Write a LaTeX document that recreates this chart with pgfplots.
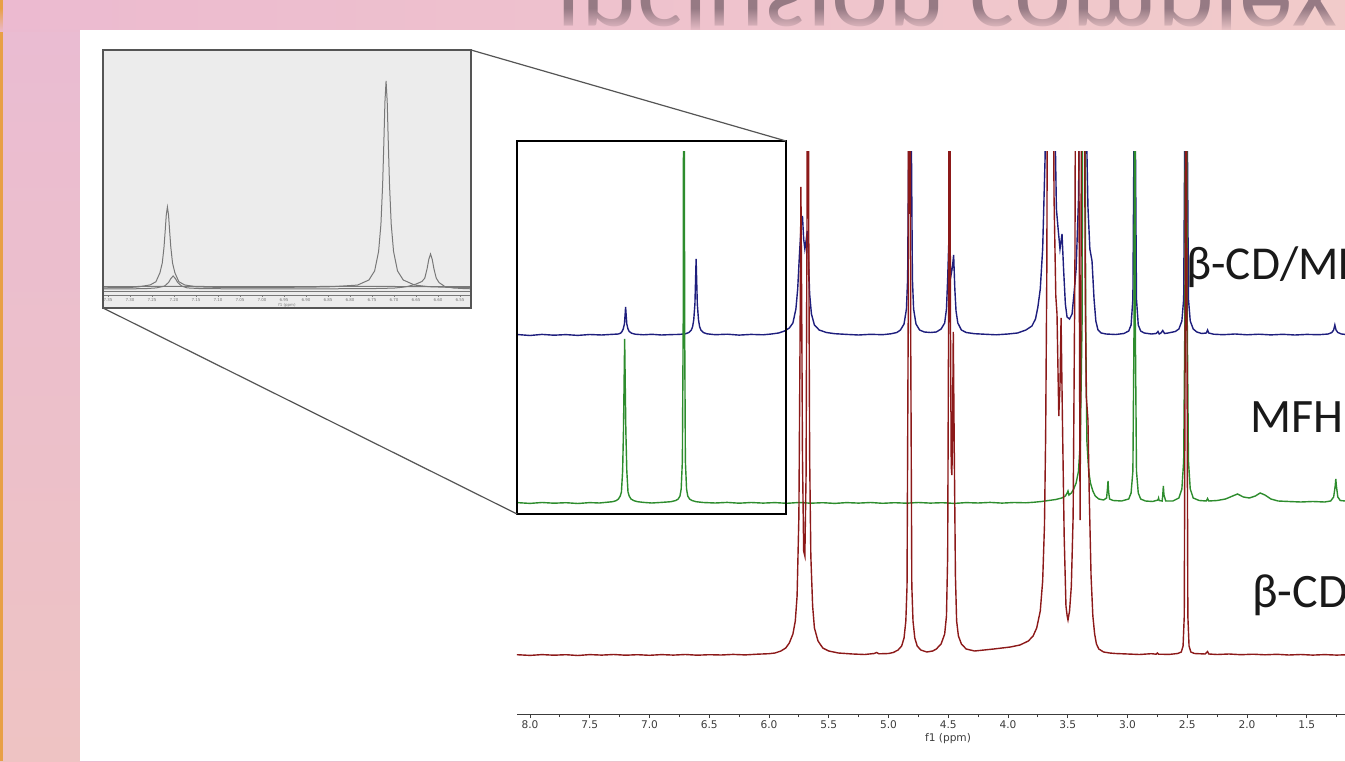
\documentclass[border=0pt]{standalone}
\usepackage{pgfplots}
\pgfplotsset{compat=1.18}
\usepackage{pgfplotstable}
\usetikzlibrary{fadings}
\usepackage{fontspec}
\setmainfont{Carlito}
\newfontfamily\dejavu{DejaVu Sans}

\definecolor{bgl}{RGB}{236,186,208}
\definecolor{bgm}{RGB}{245,184,200}
\definecolor{bgr}{RGB}{241,203,202}
\definecolor{stript}{RGB}{234,188,210}
\definecolor{stripm}{RGB}{246,180,205}
\definecolor{stripb}{RGB}{238,195,195}
\definecolor{orng}{RGB}{232,160,70}
\definecolor{bannertxt}{RGB}{150,122,132}
\definecolor{insetbg}{RGB}{236,236,236}
\definecolor{insetbd}{RGB}{85,85,85}
\definecolor{insetln}{RGB}{120,120,120}
\definecolor{specblue}{RGB}{30,30,125}
\definecolor{specgreen}{RGB}{45,140,45}
\definecolor{specred}{RGB}{140,25,25}
\definecolor{tickgray}{RGB}{60,60,60}

% ---------- main spectra (x: ppm, y: trace height in px) ----------
\pgfplotstableread{
x y
8.11 384.5
8.00 383.5
7.90 384.6
7.80 383.8
7.70 384.4
7.60 383.6
7.50 384.5
7.40 384.0
7.32 384.6
7.26 385.0
7.24 386
7.23 387.5
7.22 390
7.21 395
7.205 403
7.20 412
7.195 403
7.19 395
7.18 390
7.17 387.5
7.15 385.8
7.12 384.8
7.05 384.2
6.98 384.7
6.90 384.0
6.82 384.4
6.75 384.6
6.70 385.2
6.67 386.5
6.65 389
6.64 392
6.63 399
6.62 415
6.615 437
6.61 460
6.605 437
6.60 415
6.59 399
6.58 392
6.57 389
6.55 386.5
6.52 385.2
6.45 384.3
6.35 384.8
6.25 383.9
6.15 384.6
6.05 384.2
5.98 385.0
5.92 386
5.87 388
5.83 391
5.80 396
5.775 410
5.76 430
5.745 465
5.73 495
5.72 503
5.71 480
5.70 470
5.69 478
5.68 488
5.67 460
5.66 425
5.645 405
5.62 394
5.58 389
5.52 386.5
5.45 385.3
5.35 384.6
5.25 384.0
5.15 384.7
5.05 384.3
4.98 385.2
4.93 386.5
4.90 389
4.87 395
4.85 410
4.84 440
4.83 600
4.82 900
4.81 600
4.80 440
4.79 410
4.77 395
4.74 389
4.70 387
4.65 386.5
4.60 387
4.56 390
4.53 396
4.515 410
4.505 440
4.495 479
4.485 455
4.475 445
4.465 452
4.455 464
4.445 430
4.435 408
4.42 396
4.39 389
4.35 386.5
4.28 385.3
4.20 384.8
4.10 384.2
4.00 385.0
3.92 386
3.85 389
3.80 393
3.77 400
3.75 412
3.73 430
3.71 470
3.69 560
3.675 680
3.657 900
3.645 700
3.635 720
3.623 900
3.61 620
3.595 510
3.582 492
3.565 470
3.548 485
3.535 450
3.52 415
3.506 402
3.485 400
3.464 405
3.448 425
3.43 450
3.41 520
3.395 700
3.381 900
3.37 750
3.356 900
3.345 600
3.331 512
3.315 470
3.297 458
3.28 420
3.265 398
3.247 389
3.22 386
3.18 385
3.10 384.5
3.03 385.5
2.99 388
2.97 394
2.955 420
2.945 600
2.94 900
2.935 600
2.925 420
2.91 394
2.89 388
2.86 386
2.80 385
2.76 385.5
2.745 387.5
2.735 385
2.72 386
2.705 388.5
2.69 385.5
2.66 386
2.60 387.5
2.57 390
2.545 398
2.53 420
2.52 600
2.51 950
2.50 600
2.49 420
2.475 398
2.45 390
2.42 387
2.38 385.5
2.34 386
2.33 389
2.32 386
2.28 384.8
2.20 384.3
2.10 385.0
2.00 384.2
1.90 384.8
1.80 384.1
1.70 384.7
1.60 384.0
1.50 384.6
1.40 384.3
1.32 385.0
1.29 386.5
1.275 389
1.265 394
1.255 389
1.24 386.5
1.21 385
1.18 384.6
}\bluedata

\pgfplotstableread{
x y
8.11 218.4
8.00 217.6
7.90 218.5
7.80 217.8
7.70 218.3
7.60 217.5
7.50 218.4
7.42 218.0
7.36 218.7
7.31 219.3
7.28 220.3
7.26 222
7.245 225
7.235 229
7.225 250
7.218 290
7.212 345
7.208 382
7.204 345
7.198 290
7.19 250
7.18 229
7.17 225
7.155 222
7.13 220.3
7.10 219.3
7.05 218.6
6.98 218.0
6.90 218.6
6.82 219.3
6.78 220.5
6.76 222
6.745 225
6.735 232
6.725 260
6.718 400
6.712 900
6.706 400
6.70 260
6.69 232
6.68 225
6.665 222
6.645 220.5
6.61 219.3
6.55 218.5
6.45 218.0
6.35 218.6
6.25 217.8
6.15 218.5
6.05 217.9
5.95 218.4
5.85 217.7
5.75 218.5
5.65 217.8
5.55 218.3
5.45 217.6
5.35 218.4
5.25 217.9
5.15 218.5
5.05 217.7
4.95 218.3
4.85 217.8
4.75 218.5
4.65 217.9
4.55 218.3
4.45 217.6
4.35 218.4
4.25 218.0
4.15 218.6
4.05 217.9
3.95 218.5
3.85 218.2
3.78 218.8
3.72 219.5
3.66 220.5
3.60 221.5
3.55 223
3.52 225
3.505 228
3.498 230
3.49 226
3.47 228
3.45 232
3.43 238
3.41 250
3.395 280
3.38 400
3.37 900
3.36 900
3.35 400
3.34 280
3.325 250
3.31 238
3.29 230
3.27 225
3.24 222
3.20 221
3.175 223
3.168 232
3.163 240
3.158 229
3.15 222
3.12 220.5
3.05 220
2.99 222
2.97 228
2.955 250
2.945 400
2.94 900
2.935 400
2.925 250
2.91 228
2.89 222
2.85 220
2.79 219.5
2.745 221
2.74 223
2.735 220.5
2.71 220
2.705 226
2.70 235
2.695 226
2.68 220
2.62 220
2.57 223
2.545 232
2.53 260
2.52 400
2.51 950
2.50 400
2.49 260
2.475 232
2.45 223
2.40 220.5
2.34 220
2.33 222.5
2.32 220
2.25 220.5
2.18 222
2.12 225
2.08 227
2.03 224
1.98 223
1.93 225
1.89 228
1.85 226
1.80 222
1.74 220
1.65 219.5
1.55 219
1.45 219.5
1.35 219
1.30 220
1.275 224
1.262 235
1.257 242
1.252 235
1.24 224
1.22 220.5
1.18 220
}\greendata

\pgfplotstableread{
x y
8.11 61.3
8.00 60.6
7.90 61.4
7.80 60.8
7.70 61.3
7.60 60.5
7.50 61.4
7.40 60.9
7.30 61.5
7.20 60.8
7.10 61.3
7.00 60.7
6.90 61.4
6.80 60.9
6.70 61.5
6.60 60.8
6.50 61.3
6.40 61.0
6.30 61.6
6.20 61.1
6.10 61.8
6.00 62.3
5.95 63
5.90 65
5.86 68
5.83 73
5.80 82
5.78 95
5.765 120
5.75 200
5.74 380
5.733 529
5.726 400
5.72 260
5.71 165
5.70 160
5.69 240
5.682 500
5.675 1000
5.668 500
5.66 260
5.65 160
5.635 110
5.62 88
5.59 75
5.55 68
5.50 65
5.42 63
5.30 62
5.20 61.5
5.12 62.5
5.10 63.5
5.08 62.2
5.00 62.5
4.96 63.5
4.92 66
4.89 70
4.87 78
4.855 95
4.845 130
4.835 400
4.83 900
4.825 502
4.82 900
4.815 400
4.805 130
4.795 95
4.78 78
4.76 70
4.73 66
4.68 64
4.63 65
4.60 67
4.56 72
4.53 82
4.515 100
4.505 160
4.497 400
4.49 900
4.482 400
4.475 250
4.47 241
4.465 270
4.458 384
4.45 270
4.44 140
4.43 95
4.415 80
4.39 72
4.35 67
4.28 65
4.20 66
4.12 67
4.05 68
3.98 69
3.90 71
3.83 75
3.79 80
3.76 88
3.73 105
3.71 135
3.695 190
3.685 280
3.675 450
3.665 900
3.655 900
3.648 720
3.64 900
3.63 900
3.615 520
3.60 420
3.590 402
3.575 300
3.565 330
3.556 398
3.545 300
3.53 180
3.515 110
3.505 100
3.498 96
3.485 105
3.47 130
3.455 200
3.44 450
3.43 900
3.42 900
3.405 500
3.397 196
3.39 400
3.38 900
3.364 900
3.355 450
3.345 320
3.331 296
3.32 220
3.305 140
3.29 100
3.275 82
3.26 72
3.24 67
3.20 64
3.15 63
3.10 62.5
3.00 62
2.90 61.5
2.80 62.3
2.76 61.8
2.75 63
2.74 61.8
2.65 61.6
2.58 62.5
2.55 64
2.535 70
2.525 100
2.517 400
2.51 950
2.503 400
2.495 100
2.485 70
2.47 64
2.44 62.5
2.35 62
2.33 64.5
2.32 62
2.25 61.5
2.15 62
2.05 61.3
1.95 61.8
1.85 61.2
1.75 61.7
1.65 61.0
1.55 61.5
1.45 60.9
1.35 61.4
1.25 60.9
1.18 61.2
}\reddata

% ---------- inset (grey traces) ----------
\pgfplotstableread{
x y
7.36 5.2
7.30 5.5
7.28 6.2
7.254 8.1
7.241 11.3
7.232 20.2
7.2267 29.9
7.2228 45.5
7.2202 61
7.2176 77.9
7.215 86
7.2124 77.9
7.2098 61
7.2072 45.5
7.2033 29.9
7.198 20.2
7.189 11.3
7.176 8.1
7.15 6.2
7.10 5.6
7.00 5.6
6.90 5.8
6.84 6.3
6.783 7.9
6.757 13
6.744 22.1
6.735 41.5
6.7297 68.7
6.7258 108.5
6.7232 148
6.7206 191
6.718 212
6.7154 191
6.7128 148
6.7102 108.5
6.7063 68.7
6.701 41.5
6.692 22.1
6.679 13
6.653 7.9
6.62 6.3
6.58 5.7
6.525 5.3
}\insetgreen

\pgfplotstableread{
x y
7.36 4.0
7.30 4.1
7.26 4.5
7.24 5.1
7.2215 6.9
7.2124 10.5
7.2072 14.4
7.202 17
7.1968 14.4
7.1916 10.5
7.1825 6.9
7.17 5.1
7.14 4.4
7.05 4.1
6.90 4.1
6.75 4.4
6.70 4.9
6.68 5.8
6.669 6.6
6.657 8.0
6.6495 9.0
6.6365 11.5
6.630 14.9
6.6248 24.2
6.6209 33.6
6.617 39
6.6131 33.6
6.6092 24.2
6.604 14.9
6.5975 10.4
6.5845 6.5
6.565 5.0
6.54 4.4
6.525 4.2
}\insetblue

\pgfplotstableread{
x y
7.36 6.4
7.20 6.6
7.00 6.3
6.80 6.6
6.60 6.4
6.525 6.5
}\insetred

\begin{document}
\begin{tikzpicture}
\useasboundingbox (0,0) rectangle (672.5pt,380.5pt);
\clip (0,0) rectangle (672.5pt,380.5pt);

\begin{scope}[x=0.5pt,y=0.5pt]
% background
\shade[left color=bgl, middle color=bgm, right color=bgr] (0,0) rectangle (1345,761);
\shade[top color=stript, middle color=stripm, bottom color=stripb] (0,0) rectangle (80,731);
\fill[orng] (0,0) rectangle (3,761);

% reflected banner title (only its lower edge shows)
\begin{scope}
\clip (0,731) rectangle (1345,761);
\node[anchor=base west, inner sep=0pt, yscale=-1, text=bannertxt,
      font=\fontsize{54}{56}\selectfont] at (556,786) {inclusion complex};
\end{scope}
\shade[left color=bgl, middle color=bgm, right color=bgr, path fading=north]
  (0,729) rectangle (1345,753);

% white panel
\fill[white] (80,0) rectangle (1345,731);
\end{scope}

% ---------- main spectrum axis ----------
\begin{axis}[
  at={(258.5pt,23.5pt)}, anchor=south west, scale only axis,
  width=414pt, height=281pt,
  xmin=1.18, xmax=8.109, ymin=0, ymax=562, x dir=reverse,
  axis x line*=bottom, axis y line=none,
  axis line style={tickgray, line width=0.5pt},
  xtick={1.5,2,2.5,3,3.5,4,4.5,5,5.5,6,6.5,7,7.5,8},
  minor xtick={1.25,1.75,2.25,2.75,3.25,3.75,4.25,4.75,5.25,5.75,6.25,6.75,7.25,7.75},
  tick align=outside, major tick length=2pt, minor tick length=1.5pt,
  tick style={tickgray, line width=0.45pt},
  xticklabel style={font=\dejavu\fontsize{5.3}{6}\selectfont, text=tickgray, inner sep=1pt},
  /pgf/number format/fixed, /pgf/number format/fixed zerofill,
  /pgf/number format/precision=1, /pgf/number format/assume math mode=true,
]
\addplot[specblue, line width=0.7pt] table[x=x,y expr=\thisrow{y}-5] {\bluedata};
\addplot[specgreen, line width=0.7pt] table[x=x,y expr=\thisrow{y}-7] {\greendata};
\addplot[specred, line width=0.7pt] table[x=x,y expr=\thisrow{y}-2] {\reddata};
\end{axis}

\begin{scope}[x=0.5pt,y=0.5pt]
\node[font=\dejavu\fontsize{5.3}{6}\selectfont, text=tickgray] at (948,22) {f1 (ppm)};
% zoom box on main spectrum
\draw[black, line width=0.6pt] (517,247) rectangle (786,620);
% connector lines
\draw[insetbd, line width=0.6pt] (471,711) -- (786,620);
\draw[insetbd, line width=0.6pt] (103,453) -- (517,247);
% inset background
\fill[insetbg] (103,453) rectangle (471,711);
\end{scope}

% ---------- inset ----------
\begin{axis}[
  at={(51.5pt,232.5pt)}, anchor=south west, scale only axis,
  width=184pt, height=122pt,
  xmin=6.525, xmax=7.3614, ymin=-3, ymax=241, x dir=reverse,
  axis x line*=bottom, axis y line=none,
  axis line style={insetln, line width=0.5pt},
  xtick={6.55,6.6,6.65,6.7,6.75,6.8,6.85,6.9,6.95,7,7.05,7.1,7.15,7.2,7.25,7.3,7.35},
  tick align=center, major tick length=1.2pt,
  tick style={insetln, line width=0.3pt},
  xticklabel style={font=\dejavu\fontsize{2}{2}\selectfont, text=insetln, inner sep=0.4pt},
  /pgf/number format/fixed, /pgf/number format/fixed zerofill,
  /pgf/number format/precision=2, /pgf/number format/assume math mode=true,
]
\addplot[insetln, line width=0.5pt] table[x=x,y=y] {\insetred};
\addplot[insetln, line width=0.5pt] table[x=x,y=y] {\insetblue};
\addplot[insetln, line width=0.5pt] table[x=x,y=y] {\insetgreen};
\end{axis}

\begin{scope}[x=0.5pt,y=0.5pt]
\draw[insetln, line width=0.5pt] (103,469) -- (471,469);
\node[font=\dejavu\fontsize{2}{2}\selectfont, text=insetln] at (287,456) {f1 (ppm)};
\draw[insetbd, line width=0.9pt] (103,453) rectangle (471,711);

% ---------- labels ----------
\node[anchor=base west, inner sep=0pt, font=\fontsize{23.6}{25}\selectfont, text=black!90] at (1186,481) {β-CD/MFH};
\node[anchor=base west, inner sep=0pt, font=\fontsize{24}{26}\selectfont, text=black!90] at (1250,328.5) {MFH};
\node[anchor=base west, inner sep=0pt, font=\fontsize{24}{26}\selectfont, text=black!90] at (1252,153.5) {β-CD};
\end{scope}
\end{tikzpicture}
\end{document}
